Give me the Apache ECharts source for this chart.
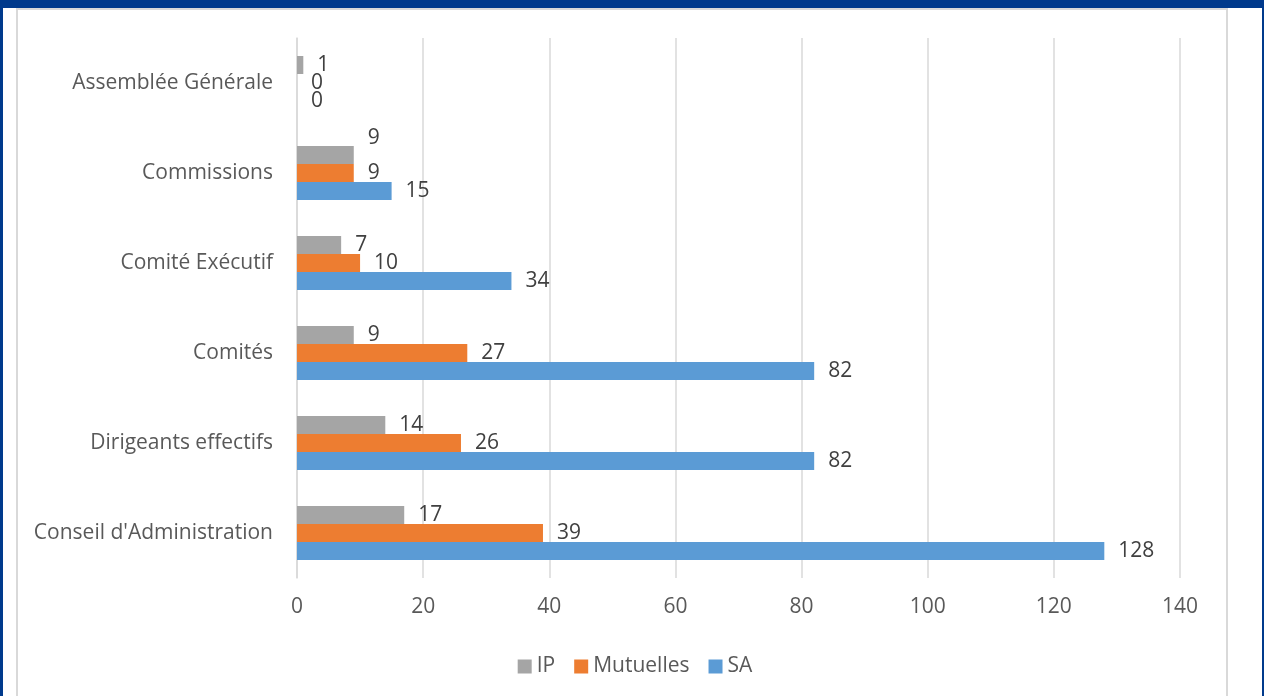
<!DOCTYPE html>
<html>
<head>
<meta charset="utf-8">
<script src="https://cdn.jsdelivr.net/npm/echarts@6/dist/echarts.min.js"></script>
<style>
  html, body { margin: 0; padding: 0; width: 1270px; height: 696px; overflow: hidden; background: #ffffff; }
  .band { position: absolute; left: 0; top: 0; width: 1264px; height: 8px; background: #003A8C; }
  .edge-l { position: absolute; left: 0; top: 0; width: 3px; height: 696px; background: #003A8C; }
  .edge-r { position: absolute; left: 1262px; top: 0; width: 2px; height: 696px; background: #003A8C; }
  .box { position: absolute; left: 16px; top: 8px; width: 1208px; height: 720px;
         border: 2px solid #D9D9D9; border-bottom: none; background: #ffffff; }
  #chart { position: absolute; left: 0; top: 0; width: 1270px; height: 696px; }
</style>
</head>
<body>
<div class="band"></div>
<div class="edge-l"></div>
<div class="edge-r"></div>
<div class="box"></div>
<div id="chart"></div>
<script>
// Governance bodies, listed bottom to top on the category axis
const categories = [
  "Conseil d'Administration",
  'Dirigeants effectifs',
  'Comités',
  'Comité Exécutif',
  'Commissions',
  'Assemblée Générale'
];
const seriesNames = ['IP', 'Mutuelles', 'SA'];
const ipValues = [17, 14, 9, 7, 9, 1];
const mutuellesValues = [39, 26, 27, 10, 9, 0];
const saValues = [128, 82, 82, 34, 15, 0];
const xTicks = { min: 0, max: 140, interval: 20 };

const FONT = '"Open Sans", "Noto Sans", sans-serif';
const TEXT = '#595959';

const colors = { IP: '#A5A5A5', Mutuelles: '#ED7D31', SA: '#5B9BD5' };
const valuesByName = { IP: ipValues, Mutuelles: mutuellesValues, SA: saValues };

// the IP label of "Commissions" is lifted so it does not collide with the Mutuelles one
function barData(name) {
  return valuesByName[name].map((v, i) => {
    if (name === 'IP' && categories[i] === 'Commissions') {
      return { value: v, label: { offset: [0, -17] } };
    }
    return v;
  });
}

const chart = echarts.init(document.getElementById('chart'), null, { renderer: 'canvas' });
chart.setOption({
  backgroundColor: 'transparent',
  animation: false,
  textStyle: { fontFamily: FONT },
  grid: { left: 297, right: 90, top: 38, bottom: 118, containLabel: false },
  legend: {
    data: seriesNames,
    left: 'center',
    top: 651,
    itemWidth: 14,
    itemHeight: 14,
    itemGap: 19,
    icon: 'rect',
    textStyle: { color: TEXT, fontSize: 21, fontFamily: FONT }
  },
  xAxis: {
    type: 'value',
    min: xTicks.min,
    max: xTicks.max,
    interval: xTicks.interval,
    axisLine: { show: false },
    axisTick: { show: false },
    splitLine: { show: true, lineStyle: { color: '#D9D9D9', width: 1.5 } },
    axisLabel: { color: TEXT, fontSize: 21, fontFamily: FONT, margin: 19 }
  },
  yAxis: {
    type: 'category',
    data: categories,
    axisLine: { show: true, lineStyle: { color: '#D9D9D9', width: 1.5 } },
    axisTick: { show: false },
    axisLabel: { color: TEXT, fontSize: 21, fontFamily: FONT, margin: 24 }
  },
  // first series is drawn at the top of each band: IP, Mutuelles, SA
  series: seriesNames.map(name => ({
    name: name,
    type: 'bar',
    data: barData(name),
    barWidth: 18,
    barGap: '0%',
    itemStyle: { color: colors[name] },
    label: {
      show: true,
      position: 'right',
      distance: 14,
      color: '#404040',
      fontSize: 21,
      fontFamily: FONT
    }
  }))
});
</script>
</body>
</html>
